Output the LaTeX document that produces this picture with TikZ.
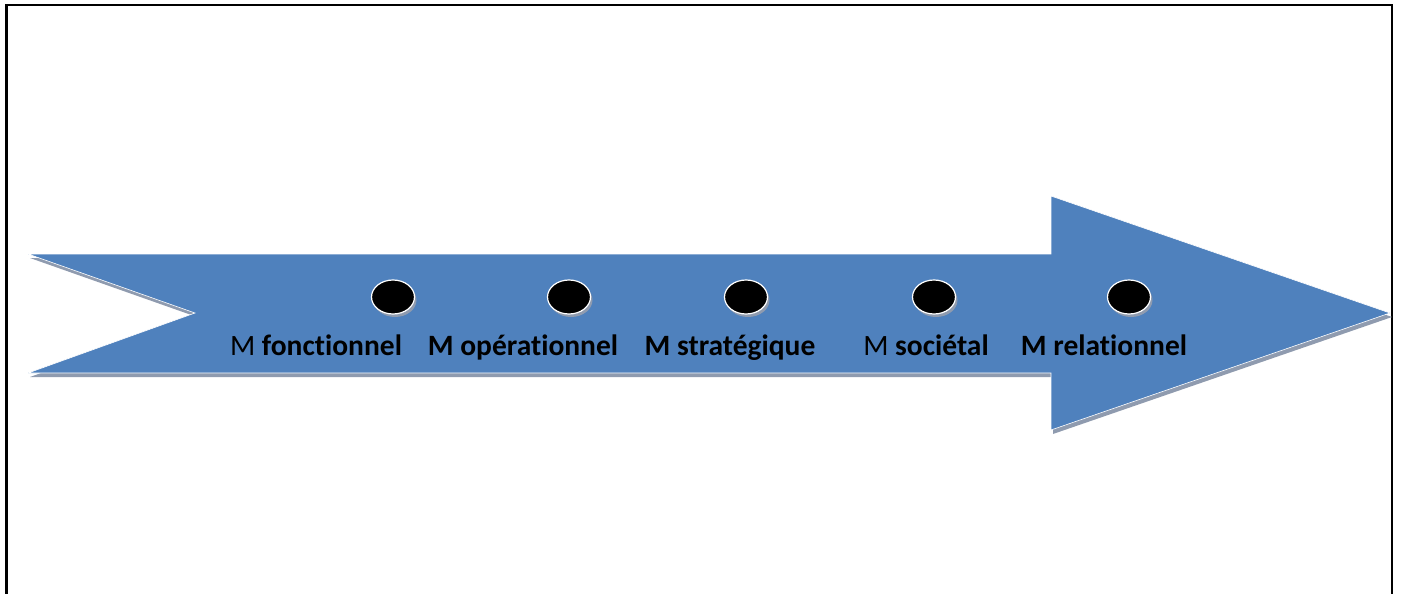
\documentclass[tikz,border=0pt]{standalone}
\usepackage{fontspec}
\setmainfont[Ligatures = NoCommon]{Carlito}
\usetikzlibrary{positioning, shapes, shadows}
\definecolor{arrowblue}{RGB}{79, 129, 189}
\definecolor{shadowgrey}{RGB}{143, 155, 175}

\begin{document}
\begin{tikzpicture}[x = 1pt, y = -1pt,
  dot/.style = {ellipse, draw = white, line width = 1.2pt, fill = black, minimum width = 43pt, minimum height = 34pt, inner sep = 0pt,
    drop shadow = {shadow xshift = 2pt, shadow yshift = -3pt, fill = shadowgrey, opacity = 1}},
  stage/.style = {font = \fontsize{29.5}{34}\selectfont, inner sep = 0pt, anchor = base}]
  \useasboundingbox (0,0) rectangle (1401,594);

  % frame
  \draw [line width = 2.5pt] (6.5,600) -- (6.5,5) -- (1392,5) -- (1392,600);

  % arrow
  \fill [shadowgrey, shift = {(2,4)}] (28,254) -- (1051,254) -- (1051,196) -- (1390,313) -- (1051,430) -- (1051,373) -- (28,373) -- (195,313) -- cycle;
  \fill [arrowblue, draw = white, line width = 0.6pt] (28,254) -- (1051,254) -- (1051,196) -- (1390,313) -- (1051,430) -- (1051,373) -- (28,373) -- (195,313) -- cycle;

  % dots
  \node [dot] (fonc) at (393,297) {};
  \node [dot] (oper) at (569,297) {};
  \node [dot] (strat) at (746,297) {};
  \node [dot] (soc) at (934,297) {};
  \node [dot] (rel) at (1129,297) {};

  % stages
  \node [stage] (fonc_txt) at (316,355) {M \textbf{fonctionnel}};
  \node [stage] (oper_txt) at (523,355) {\textbf{M opérationnel}};
  \node [stage] (strat_txt) at (730,355) {\textbf{M stratégique}};
  \node [stage] (soc_txt) at (926,355) {M \textbf{sociétal}};
  \node [stage] (rel_txt) at (1104,355) {\textbf{M relationnel}};
\end{tikzpicture}
\end{document}
